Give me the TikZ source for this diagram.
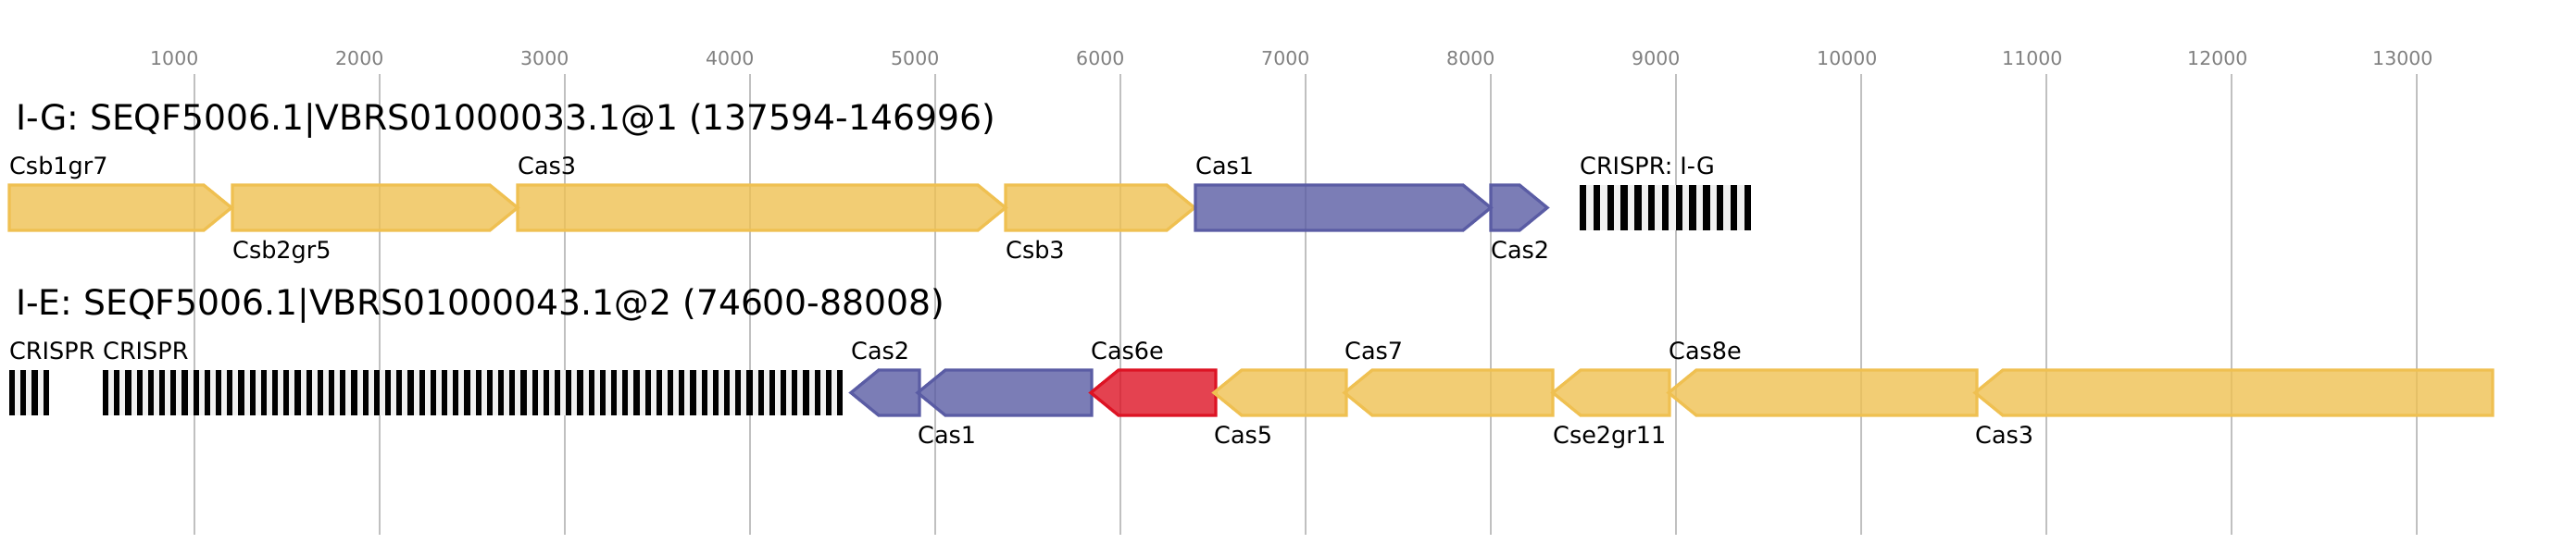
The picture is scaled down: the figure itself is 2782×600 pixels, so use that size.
\documentclass[tikz,border=0pt]{standalone}
\usepackage{fontspec}
\setmainfont{DejaVu Sans}
\definecolor{gridgrey}{HTML}{C0C0C0}
\definecolor{tickgrey}{HTML}{808080}
\definecolor{geneyellow}{HTML}{EFC051}
\definecolor{geneblue}{HTML}{5A5CA4}
\definecolor{genered}{HTML}{DD1324}
\definecolor{spacergrey}{HTML}{F0F0F0}

% gene arrows: start, end, top, colour
\newcommand{\fwdgene}[4]{%
  \draw[gene, draw=#4, fill=#4] (#1,#3) -- ({#2-30},#3) -- (#2,{#3+24.5})
    -- ({#2-30},{#3+49}) -- (#1,{#3+49}) -- cycle;}
\newcommand{\revgene}[4]{%
  \draw[gene, draw=#4, fill=#4] (#1,{#3+24.5}) -- ({#1+30},#3) -- (#2,#3)
    -- (#2,{#3+49}) -- ({#1+30},{#3+49}) -- cycle;}
% crispr array: start, top, repeats, period
\newcommand{\crisprarray}[4]{%
  \fill[spacergrey] (#1,#2) rectangle ({#1+(#3-1)*#4+#4/2},{#2+49});
  \foreach \r in {1,...,#3}
    \fill[black] ({#1+(\r-1)*#4},#2) rectangle ({#1+(\r-1)*#4+#4/2},{#2+49});}

\begin{document}
\begin{tikzpicture}[x=1pt, y=-1pt,
  gridline/.style={draw=gridgrey, line width=2pt},
  ticklabel/.style={anchor=base west, inner sep=0pt, text=tickgrey, font=\fontsize{20.5}{24}\selectfont},
  locustitle/.style={anchor=base west, inner sep=0pt, font=\fontsize{37.7}{44}\selectfont},
  genelabel/.style={anchor=base west, inner sep=0pt, font=\fontsize{25.5}{30}\selectfont},
  gene/.style={line width=3.3pt, line join=miter, fill opacity=0.8}]
\useasboundingbox (0,0) rectangle (2782,600);

% scale
\foreach \k in {1,...,13} {
  \draw[gridline] ({10+200*\k},80) -- ({10+200*\k},578);
  \node[ticklabel] (tick\k) at ({10+200*\k-48},70.7) {\k000};
}

% I-G locus
\node[locustitle] (igtitle) at (17,140) {I-G: SEQF5006.1|VBRS01000033.1@1 (137594-146996)};
\fwdgene{10}{250}{200}{geneyellow}
\fwdgene{251}{559}{200}{geneyellow}
\fwdgene{559}{1086}{200}{geneyellow}
\fwdgene{1086}{1290}{200}{geneyellow}
\fwdgene{1291}{1610}{200}{geneblue}
\fwdgene{1610}{1671}{200}{geneblue}
\crisprarray{1706}{200}{13}{14.8}
\node[genelabel] (igcsb1gr7) at (10,188) {Csb1gr7};
\node[genelabel] (igcsb2gr5) at (251,279) {Csb2gr5};
\node[genelabel] (igcas3) at (559,188) {Cas3};
\node[genelabel] (igcsb3) at (1086,279) {Csb3};
\node[genelabel] (igcas1) at (1291,188) {Cas1};
\node[genelabel] (igcas2) at (1610,279) {Cas2};
\node[genelabel] (igcrispr) at (1706,188) {CRISPR: I-G};

% I-E locus
\node[locustitle] (ietitle) at (17,340) {I-E: SEQF5006.1|VBRS01000043.1@2 (74600-88008)};
\crisprarray{10}{400}{4}{12.2}
\crisprarray{111}{400}{66}{12.2}
\revgene{919}{993}{400}{geneblue}
\revgene{991}{1179}{400}{geneblue}
\revgene{1178}{1313}{400}{genered}
\revgene{1311}{1454}{400}{geneyellow}
\revgene{1452}{1677}{400}{geneyellow}
\revgene{1677}{1803}{400}{geneyellow}
\revgene{1802}{2135}{400}{geneyellow}
\revgene{2133}{2692}{400}{geneyellow}
\node[genelabel] (iecrispra) at (10,388) {CRISPR};
\node[genelabel] (iecrisprb) at (111,388) {CRISPR};
\node[genelabel] (iecas2) at (919,388) {Cas2};
\node[genelabel] (iecas1) at (991,479) {Cas1};
\node[genelabel] (iecas6e) at (1178,388) {Cas6e};
\node[genelabel] (iecas5) at (1311,479) {Cas5};
\node[genelabel] (iecas7) at (1452,388) {Cas7};
\node[genelabel] (iecse2gr11) at (1677,479) {Cse2gr11};
\node[genelabel] (iecas8e) at (1802,388) {Cas8e};
\node[genelabel] (iecas3) at (2133,479) {Cas3};
\end{tikzpicture}
\end{document}
